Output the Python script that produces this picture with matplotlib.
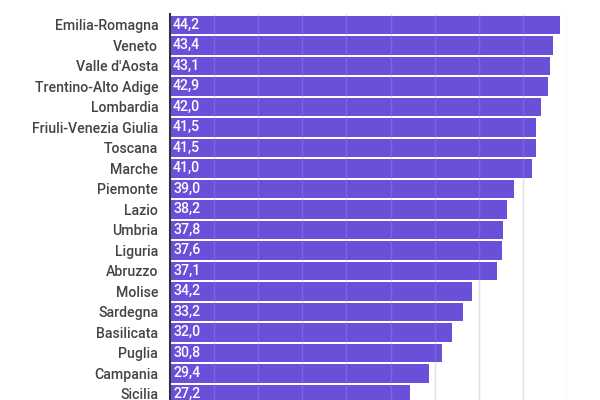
import matplotlib.pyplot as plt

regions = [
    "Emilia-Romagna", "Veneto", "Valle d'Aosta", "Trentino-Alto Adige",
    "Lombardia", "Friuli-Venezia Giulia", "Toscana", "Marche", "Piemonte",
    "Lazio", "Umbria", "Liguria", "Abruzzo", "Molise", "Sardegna",
    "Basilicata", "Puglia", "Campania", "Sicilia",
]
values = [44.2, 43.4, 43.1, 42.9, 42.0, 41.5, 41.5, 41.0, 39.0,
          38.2, 37.8, 37.6, 37.1, 34.2, 33.2, 32.0, 30.8, 29.4, 27.2]
grid_ticks = [5, 10, 15, 20, 25, 30, 35, 40, 45]

bar_color = "#6a50d9"

fig = plt.figure(figsize=(6, 4), dpi=100)
# axes top at 14px, extends below the figure edge (chart is cropped)
ax = fig.add_axes([170 / 600, -15 / 400, 397 / 600, 401 / 400])

pos = list(range(len(regions)))
ax.barh(pos, values, height=0.9, color=bar_color, zorder=2)

for y, v in zip(pos, values):
    ax.text(0.35, y, f"{v:.1f}".replace(".", ","), color="white",
            fontsize=10.2, family="Roboto", fontweight="medium",
            va="center", ha="left", zorder=4)

for g in grid_ticks:
    ax.axvline(g, color="#dddddd", lw=1, zorder=1)
    ax.axvline(g, color="white", lw=1, alpha=0.12, zorder=3)

ax.set_xlim(0, 45)
ax.set_ylim(18.5 + 0.53, -0.53)
ax.set_yticks(pos)
ax.set_yticklabels(regions, family="Roboto", fontsize=10.2,
                   fontweight="medium", color="#444444")
ax.tick_params(axis="y", length=0, pad=8.5)
ax.set_xticks([])

for side in ["top", "right", "bottom"]:
    ax.spines[side].set_visible(False)
ax.spines["left"].set_color("#333333")
ax.spines["left"].set_linewidth(1.5)
ax.spines["left"].set_zorder(5)

fig.savefig("out.png", dpi=100)
